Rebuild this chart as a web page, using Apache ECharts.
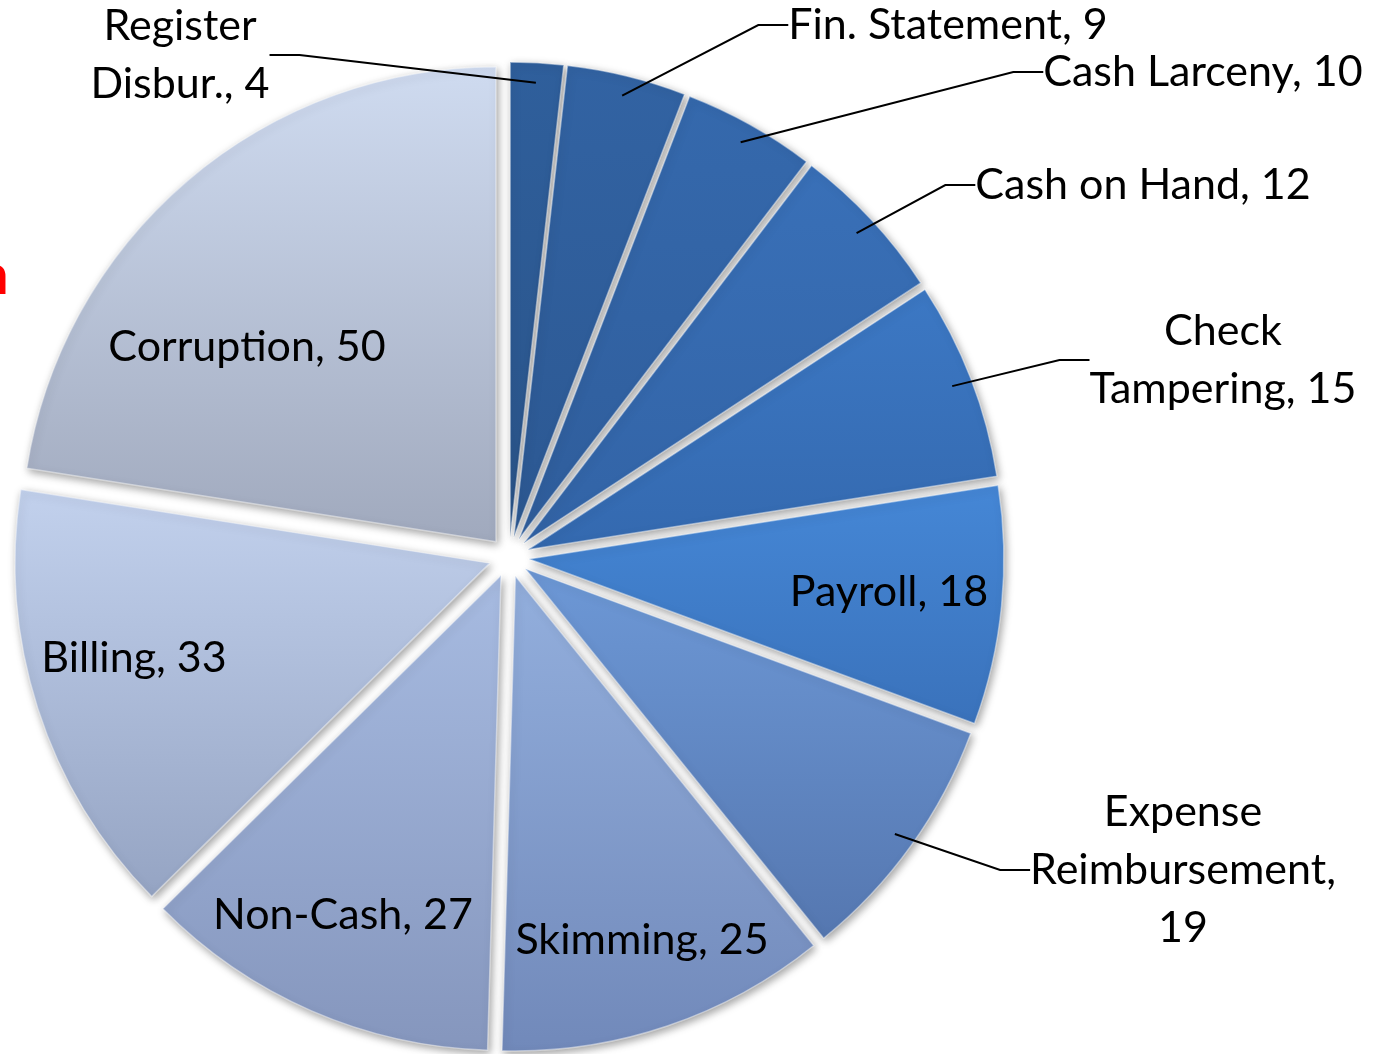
<!DOCTYPE html>
<html lang="en">
<head>
    <meta charset="UTF-8"/>
    <title>Fraud cases by scheme</title>
    <script src="https://cdn.jsdelivr.net/npm/echarts@6/dist/echarts.min.js"></script>
    <style>
        html, body { margin: 0; padding: 0; background: #fff; }
    </style>
</head>
<body>
<div id="main" style="width: 1379px;height:1054px;"></div>

<script type="text/javascript">
    // slices, clockwise from 12 o'clock
    var schemes = ['Register Disbur.', 'Fin. Statement', 'Cash Larceny', 'Cash on Hand', 'Check Tampering',
        'Payroll', 'Expense Reimbursement', 'Skimming', 'Non-Cash', 'Billing', 'Corruption'];
    var cases = [4, 9, 10, 12, 15, 18, 19, 25, 27, 33, 50];

    // label text with the line breaks used on the slide
    var labelText = ['Register\nDisbur., 4', 'Fin. Statement, 9', 'Cash Larceny, 10', 'Cash on Hand, 12',
        'Check\nTampering, 15', 'Payroll, 18', 'Expense\nReimbursement,\n19', 'Skimming, 25',
        'Non-Cash, 27', 'Billing, 33', 'Corruption, 50'];

    // gradient colours (top, bottom) for each slice
    var topColors = ['#2f5f9c', '#3263a3', '#3569ad', '#3970b8', '#3c78c4', '#4587d6',
        '#6d98d6', '#93afdd', '#a7bbe1', '#c2d1ed', '#cfdbf0'];
    var bottomColors = ['#2a5489', '#2c5892', '#2f5d9b', '#3263a5', '#3469af', '#3a72bb',
        '#5577b0', '#7189ba', '#8596bd', '#95a4c3', '#a0a9bd'];

    // label anchors (centre of the text block); outside labels get a leader line
    var labelPos = [[180, 55], [948, 25], [1203, 72], [1143, 185], [1223, 360], [889, 592],
        [1183, 870], [642, 940], [343, 915], [134, 658], [247, 347]];
    var outside = [true, true, true, true, true, false, true, false, false, false, false];

    var myChart = echarts.init(document.getElementById('main'));

    // exploded slices
    var sliceData = schemes.map(function (name, i) {
        return {
            name: name,
            value: cases[i],
            selected: true,
            itemStyle: {
                color: new echarts.graphic.LinearGradient(0, 0, 0, 1, [
                    {offset: 0, color: topColors[i]},
                    {offset: 1, color: bottomColors[i]}
                ])
            }
        };
    });

    // same slices, invisible, carrying the labels
    // (labelLayout gets overridden by the select state, so labels live on a second pie)
    var labelData = schemes.map(function (name, i) {
        return {
            name: name,
            value: cases[i],
            labelLine: {show: outside[i]}
        };
    });

    var option = {
        animation: false,
        graphic: [{
            type: 'text',
            left: -23,
            top: 248,
            style: {
                text: 'n',
                fill: '#ff0000',
                font: 'bold 56px Lato'
            }
        }],
        series: [
            {
                name: 'Cases',
                type: 'pie',
                radius: 475,
                center: [509, 557],
                selectedMode: 'multiple',
                selectedOffset: 20,
                silent: true,
                data: sliceData,
                itemStyle: {
                    borderColor: 'rgba(255,255,255,0.45)',
                    borderWidth: 1.5,
                    shadowBlur: 9,
                    shadowOffsetX: 2,
                    shadowOffsetY: 3,
                    shadowColor: 'rgba(0,0,0,0.38)'
                },
                label: {show: false},
                labelLine: {show: false}
            },
            {
                name: 'Labels',
                type: 'pie',
                z: 5,
                radius: 475,
                center: [509, 557],
                silent: true,
                avoidLabelOverlap: false,
                data: labelData,
                itemStyle: {color: 'rgba(0,0,0,0)', borderWidth: 0},
                label: {
                    position: 'outside',
                    color: '#000',
                    fontFamily: 'Lato',
                    fontSize: 43,
                    lineHeight: 58,
                    formatter: function (p) {
                        return labelText[p.dataIndex];
                    }
                },
                labelLine: {
                    lineStyle: {color: '#000', width: 2}
                },
                labelLayout: function (params) {
                    var p = labelPos[params.dataIndex];
                    return {
                        x: p[0],
                        y: p[1],
                        align: 'center',
                        verticalAlign: 'middle'
                    };
                }
            }
        ]
    };

    myChart.setOption(option);
</script>

</body>
</html>
